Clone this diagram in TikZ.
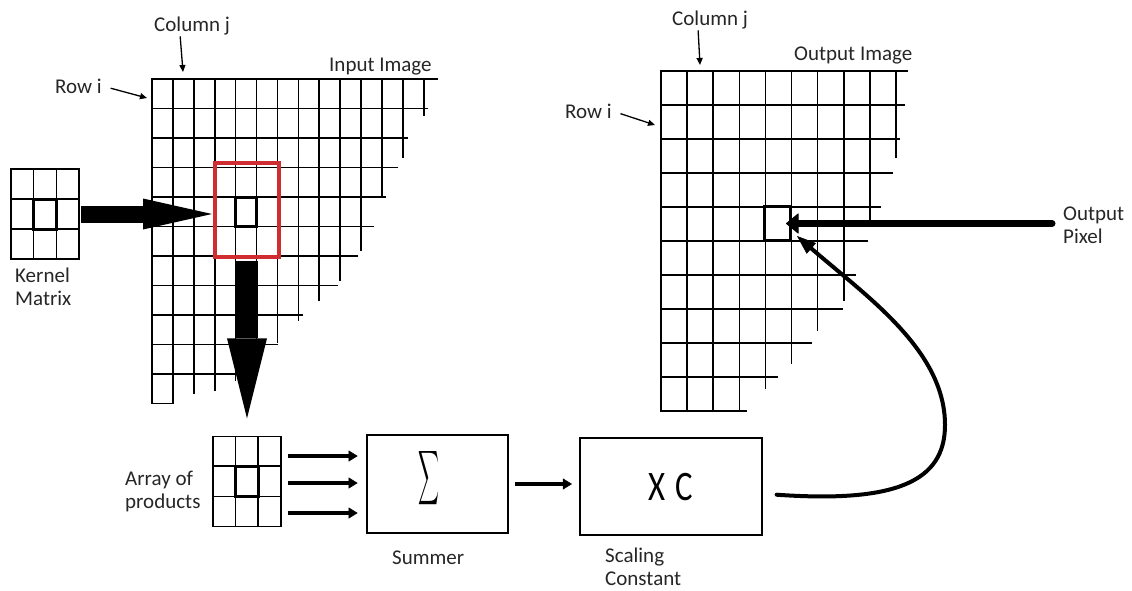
\documentclass[tikz,border=0pt]{standalone}
\usepackage{fontspec}
\setmainfont{Carlito}
\usepackage{graphicx}
\usetikzlibrary{arrows.meta}
\definecolor{windowred}{RGB}{208,45,50}

\begin{document}
\begin{tikzpicture}[
    x=1pt, y=-1pt,
    gridline/.style={line width=1.6pt, line cap=rect},
    boldcell/.style={line width=3pt},
    cellbox/.style={draw, line width=1.6pt, minimum width=68pt, minimum height=90pt, inner sep=0pt, outer sep=0pt},
    window/.style={draw=windowred, line width=3.5pt, minimum width=64pt, minimum height=94pt, inner sep=0pt, outer sep=0pt},
    block/.style={draw, line width=2.2pt, inner sep=0pt, outer sep=0pt},
    lbl/.style={font=\fontsize{21}{23}\selectfont, text=black!85, inner sep=0pt, align=left},
    thinarr/.style={line width=1.3pt, -{Triangle[length=7pt,width=6pt]}},
    flowarr/.style={line width=3.8pt, -{Triangle[length=9pt,width=11pt,line width=0.5pt]}}
]
\useasboundingbox (0,0) rectangle (1132,590);

% Dimensions
\def\ix{152} \def\iy{79} \def\idx{20.9} \def\idy{29.5}  % Input grid
\def\ox{661} \def\oy{71} \def\odx{26.1} \def\ody{34}    % Output grid

% Input image
\foreach \r/\e in {0/437,1/427,2/407,3/397,4/385,5/373,6/357,7/337,8/302,9/277,10/245,11/173}
    \draw[gridline] (\ix,\iy+\r*\idy) -- (\e,\iy+\r*\idy);
\foreach \c/\e in {0/403.5,1/403.5,2/393,3/390,4/380,5/370,6/342,7/320,8/300,9/280,10/250,11/197,12/157,13/115}
    \draw[gridline] (\ix+\c*\idx,\iy) -- (\ix+\c*\idx,\e);
\draw[boldcell] (\ix+4*\idx,\iy+4*\idy) rectangle (\ix+5*\idx,\iy+5*\idy);
\node[window] (window) at (247,210) {};

% Output image
\foreach \r/\e in {0/907,1/904,2/899,3/892,4/880,5/867,6/855,7/842,8/811,9/777,10/746}
    \draw[gridline] (\ox,\oy+\r*\ody) -- (\e,\oy+\r*\ody);
\foreach \c/\e in {0/411,1/411,2/411,3/411,4/388,5/363,6/330,7/300,8/222,9/157}
    \draw[gridline] (\ox+\c*\odx,\oy) -- (\ox+\c*\odx,\e);
\node[draw, line width=3pt, minimum width=26pt, minimum height=34pt, inner sep=0pt, outer sep=0pt] (opixel) at (777.5,223.5) {};

% Kernel and array of products
\foreach \nm/\cx/\cy in {kernel/45/214, products/246.7/481.3} {
    \node[cellbox] (\nm) at (\cx,\cy) {};
    \foreach \k in {-11.33,11.33} {
        \draw[gridline] (\cx+\k,\cy-45) -- (\cx+\k,\cy+45);
        \draw[gridline] (\cx-34,\cy+\k*1.33) -- (\cx+34,\cy+\k*1.33);
    }
    \draw[boldcell] (\cx-11.33,\cy-15) rectangle (\cx+11.33,\cy+15);
}

% Summer and scaling constant
\node[block, minimum width=141.7pt, minimum height=98.3pt,
      label={[xshift=-9pt, yshift=6pt]center:{\scalebox{1.45}[3.8]{$\displaystyle\sum$}}}] (summer) at (437.5,484) {};
\node[block, minimum width=181.7pt, minimum height=96.7pt, font=\fontsize{42}{44}\selectfont] (scaling) at (670.8,486.7) {\scalebox{0.78}[1]{X\hspace{13pt}C}};

% Labels
\node[lbl, anchor=base west] (colIn) at (154,31) {Column j};
\node[lbl, anchor=base west] (rowIn) at (55,93) {Row i};
\node[lbl, anchor=base west] (inImg) at (329,71.5) {Input Image};
\node[lbl, anchor=west] (kernelLbl) at (15,287) {Kernel\\Matrix};
\node[lbl, anchor=base west] (colOut) at (672,25) {Column j};
\node[lbl, anchor=base west] (rowOut) at (565,118) {Row i};
\node[lbl, anchor=base west] (outImg) at (794,60) {Output Image};
\node[lbl, anchor=west] (opixLbl) at (1063,225) {Output\\Pixel};
\node[lbl, anchor=west] (productsLbl) at (125,491) {Array of\\products};
\node[lbl, anchor=base west] (summerLbl) at (392,564) {Summer};
\node[lbl, anchor=west] (scalingLbl) at (605,567) {Scaling\\Constant};

% Pointers
\coordinate (colInTip) at (183,72);
\coordinate (rowInTip) at (147,98);
\coordinate (colOutTip) at (700,65);
\coordinate (rowOutTip) at (655,125);
\draw[thinarr, shorten <=1.5pt] ([xshift=-12pt]colIn.south) -- (colInTip);
\draw[thinarr, shorten <=9pt] (rowIn.east) -- (rowInTip);
\draw[thinarr, shorten <=1.5pt] ([xshift=-12pt]colOut.south) -- (colOutTip);
\draw[thinarr, shorten <=9pt] (rowOut.east) -- (rowOutTip);

% Big arrows
\draw[line width=17pt, shorten <=2pt, shorten >=3pt, -{Triangle[length=69pt,width=31pt,line width=0pt]}]
    (kernel.east) -- (kernel.east -| window.west);
\draw[line width=22pt, shorten <=4pt, shorten >=18pt, -{Triangle[length=80pt,width=40pt,line width=0pt]}]
    (window.south) -- (window.south |- products.north);

% Flow
\foreach \ay in {456,483,513}
    \draw[flowarr, shorten <=7pt, shorten >=9pt] (products.east |- 0,\ay) -- (summer.west |- 0,\ay);
\draw[line width=3.5pt, shorten <=7pt, shorten >=8pt, -{Triangle[length=9pt,width=11pt,line width=0.5pt]}]
    (summer.east) -- (summer.east -| scaling.west);
\draw[line width=4pt, line cap=round, -{Triangle[length=19pt,width=14pt,line width=0.5pt]}]
    ([xshift=15pt,yshift=-8pt]scaling.east) .. controls (895,503) and (945,482) .. (945,425)
    .. controls (945,350) and (866,296) .. ([xshift=6.5pt,yshift=4.5pt]opixel.south east);
\draw[line width=7pt, line cap=round, shorten <=11pt, shorten >=-4.5pt, -{Triangle[length=13pt,width=21pt,line width=1pt,round]}]
    (opixLbl.west |- opixel.east) -- (opixel.east);

\end{tikzpicture}
\end{document}
